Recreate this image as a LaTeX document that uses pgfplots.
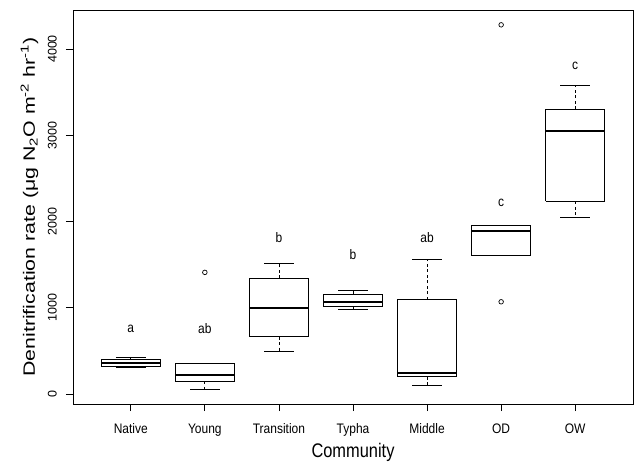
\documentclass[border=0pt]{standalone}
\usepackage{fontspec}
\setmainfont{Liberation Sans}
\usepackage{pgfplots}
\pgfplotsset{compat=1.18}

\newcommand{\vs}[1]{\scalebox{1}[1.15]{#1}}

\pgfplotsset{
  bx/.style={black, solid, line width=0.8bp, no markers, line join=miter},
  md/.style={black, solid, line width=2.2bp, no markers},
  wh/.style={black, line width=0.8bp, dash pattern=on 3bp off 2.5bp, no markers},
  cp/.style={black, solid, line width=0.8bp, no markers},
  ot/.style={black, only marks, mark=o, mark size=2.3bp, mark options={solid, line width=0.7bp}},
}

\begin{document}
\begin{tikzpicture}
\useasboundingbox (-73bp,-61bp) rectangle (562bp,404bp);
\begin{axis}[
  scale only axis, width=560bp, height=394bp,
  xmin=0.22, xmax=7.78, ymin=-116, ymax=4452,
  xtick={1,2,3,4,5,6,7},
  xticklabels={},
  ytick={0,1000,2000,3000,4000},
  yticklabels={},
  tick pos=left, tick align=outside, major tick length=7bp,
  axis line style={line width=0.8bp},
  every tick/.style={black, line width=0.8bp},
  xlabel={\scalebox{1}[1.2]{Community}},
  ylabel={\scalebox{1.3}[1]{Denitrification rate (μg N\textsubscript{2}O m\textsuperscript{-2} hr\textsuperscript{-1})}},
  label style={font=\fontsize{16.4bp}{19bp}\selectfont, inner sep=0pt},
  xlabel style={at={(axis description cs:0.5,0)}, anchor=base, yshift=-53bp},
  ylabel style={at={(axis description cs:-0.0679,0.5)}, anchor=base, rotate=0},
  clip=false,
]
% ---- Native (x=1): 313 / 317 / 359 / 401 / 421
\addplot[wh] coordinates {(1,317) (1,313)};
\addplot[wh] coordinates {(1,401) (1,421)};
\addplot[cp] coordinates {(0.8,313) (1.2,313)};
\addplot[cp] coordinates {(0.8,421) (1.2,421)};
\addplot[bx] coordinates {(0.6,317) (1.4,317) (1.4,401) (0.6,401) (0.6,317)};
\addplot[md] coordinates {(0.6,359) (1.4,359)};
% ---- Young (x=2): 55 / 146 / 216 / 355 / 355, outlier 1410
\addplot[wh] coordinates {(2,146) (2,55)};
\addplot[cp] coordinates {(1.8,55) (2.2,55)};
\addplot[cp] coordinates {(1.8,355) (2.2,355)};
\addplot[bx] coordinates {(1.6,146) (2.4,146) (2.4,355) (1.6,355) (1.6,146)};
\addplot[md] coordinates {(1.6,216) (2.4,216)};
\addplot[ot] coordinates {(2,1410)};
% ---- Transition (x=3): 494 / 664 / 1001 / 1340 / 1519
\addplot[wh] coordinates {(3,664) (3,494)};
\addplot[wh] coordinates {(3,1340) (3,1519)};
\addplot[cp] coordinates {(2.8,494) (3.2,494)};
\addplot[cp] coordinates {(2.8,1519) (3.2,1519)};
\addplot[bx] coordinates {(2.6,664) (3.4,664) (3.4,1340) (2.6,1340) (2.6,664)};
\addplot[md] coordinates {(2.6,1001) (3.4,1001)};
% ---- Typha (x=4): 986 / 1012 / 1067 / 1155 / 1206
\addplot[wh] coordinates {(4,1012) (4,986)};
\addplot[wh] coordinates {(4,1155) (4,1206)};
\addplot[cp] coordinates {(3.8,986) (4.2,986)};
\addplot[cp] coordinates {(3.8,1206) (4.2,1206)};
\addplot[bx] coordinates {(3.6,1012) (4.4,1012) (4.4,1155) (3.6,1155) (3.6,1012)};
\addplot[md] coordinates {(3.6,1067) (4.4,1067)};
% ---- Middle (x=5): 96 / 201 / 239 / 1093 / 1565
\addplot[wh] coordinates {(5,201) (5,96)};
\addplot[wh] coordinates {(5,1093) (5,1565)};
\addplot[cp] coordinates {(4.8,96) (5.2,96)};
\addplot[cp] coordinates {(4.8,1565) (5.2,1565)};
\addplot[bx] coordinates {(4.6,201) (5.4,201) (5.4,1093) (4.6,1093) (4.6,201)};
\addplot[md] coordinates {(4.6,239) (5.4,239)};
% ---- OD (x=6): 1603 / 1603 / 1893 / 1959 / 1959, outliers 1069, 4280
\addplot[bx] coordinates {(5.6,1603) (6.4,1603) (6.4,1959) (5.6,1959) (5.6,1603)};
\addplot[md] coordinates {(5.6,1893) (6.4,1893)};
\addplot[ot] coordinates {(6,1069) (6,4280)};
% ---- OW (x=7): 2052 / 2233 / 3049 / 3304 / 3575
\addplot[wh] coordinates {(7,2233) (7,2052)};
\addplot[wh] coordinates {(7,3304) (7,3575)};
\addplot[cp] coordinates {(6.8,2052) (7.2,2052)};
\addplot[cp] coordinates {(6.8,3575) (7.2,3575)};
\addplot[bx] coordinates {(6.6,2233) (7.4,2233) (7.4,3304) (6.6,3304) (6.6,2233)};
\addplot[md] coordinates {(6.6,3049) (7.4,3049)};

% significance letters
\begin{scope}[every node/.style={anchor=base, inner sep=0pt, font=\fontsize{12bp}{14bp}\selectfont}]
\node at (axis cs:1,714) {\vs{a}};
\node at (axis cs:2,703) {\vs{ab}};
\node at (axis cs:3,1751) {\vs{b}};
\node at (axis cs:4,1554) {\vs{b}};
\node at (axis cs:5,1758) {\vs{ab}};
\node at (axis cs:6,2172) {\vs{c}};
\node at (axis cs:7,3757) {\vs{c}};
% x tick labels
\node at ([yshift=-29.7bp]axis cs:1,-116) {\vs{Native}};
\node at ([yshift=-29.7bp]axis cs:2,-116) {\vs{Young}};
\node at ([yshift=-29.7bp]axis cs:3,-116) {\vs{Transition}};
\node at ([yshift=-29.7bp]axis cs:4,-116) {\vs{Typha}};
\node at ([yshift=-29.7bp]axis cs:5,-116) {\vs{Middle}};
\node at ([yshift=-29.7bp]axis cs:6,-116) {\vs{OD}};
\node at ([yshift=-29.7bp]axis cs:7,-116) {\vs{OW}};
\end{scope}
% y tick labels
\begin{scope}[every node/.style={anchor=base, rotate=90, inner sep=0pt, font=\fontsize{12.5bp}{14bp}\selectfont}]
\node at ([xshift=-16.3bp]axis cs:0.22,0) {0};
\node at ([xshift=-16.3bp]axis cs:0.22,1000) {1000};
\node at ([xshift=-16.3bp]axis cs:0.22,2000) {2000};
\node at ([xshift=-16.3bp]axis cs:0.22,3000) {3000};
\node at ([xshift=-16.3bp]axis cs:0.22,4000) {4000};
\end{scope}
\end{axis}
\end{tikzpicture}
\end{document}
